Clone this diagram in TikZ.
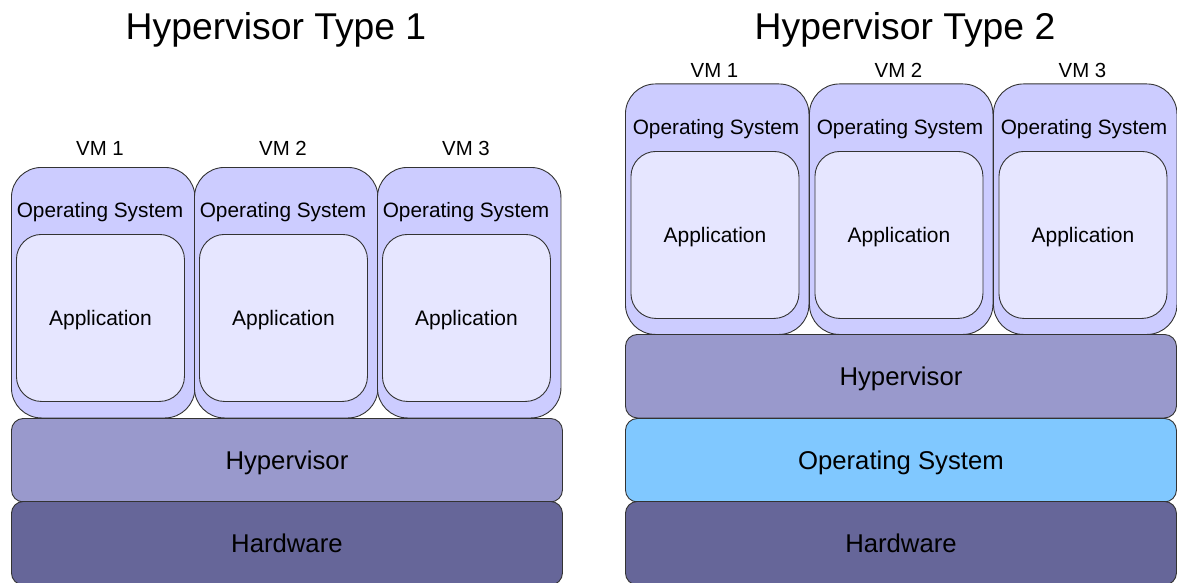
\documentclass[tikz,border=0pt]{standalone}
\usepackage{fontspec}
\setmainfont{Liberation Sans}
\definecolor{vmfill}{HTML}{CCCCFF}
\definecolor{appfill}{HTML}{E6E6FF}
\definecolor{hypfill}{HTML}{9999CC}
\definecolor{hwfill}{HTML}{666699}
\definecolor{osfill}{HTML}{80C8FF}
\definecolor{edge}{HTML}{333333}
\tikzset{
  box/.style={draw=edge, line width=0.9pt, rectangle, inner sep=0pt, anchor=north west},
  vmbox/.style={box, fill=vmfill, rounded corners=30pt, minimum width=183.5pt, minimum height=250.5pt},
  appbox/.style={box, fill=appfill, rounded corners=25pt, minimum width=168pt, minimum height=167pt},
  layer/.style={box, rounded corners=12pt, minimum width=551pt, minimum height=83.5pt},
  title/.style={anchor=base, font=\fontsize{37.3}{40}\selectfont},
  vmlabel/.style={anchor=base, font=\fontsize{20.4}{24}\selectfont},
  oslabel/.style={anchor=base, font=\fontsize{20.8}{24}\selectfont},
  applabel/.style={anchor=base, font=\fontsize{21}{24}\selectfont},
  layerlabel/.style={anchor=base, font=\fontsize{25.7}{30}\selectfont},
}
\begin{document}
\begin{tikzpicture}[x=1pt, y=-1pt]
  \useasboundingbox (0,0) rectangle (1177,583);

  % ---------- Type 1: bare-metal hypervisor ----------
  \node[title] (t1) at (276,40) {Hypervisor Type 1};
  \foreach \i/\x in {1/11, 2/194, 3/377} {
    \node[vmbox] (L\i vm) at (\x,167) {};
    \node[appbox] (L\i app) at (\x+5,234) {};
    \node[vmlabel] (L\i vmt) at (\x+89,155.5) {VM \i};
    \node[oslabel] (L\i ost) at (\x+89,217.3) {Operating System};
    \node[applabel] (L\i appt) at (L\i app.center |- 0,325.3) {Application};
  }
  \node[layer, fill=hypfill] (Lhyp) at (11,418) {};
  \node[layerlabel] (Lhypt) at (Lhyp.center |- 0,469) {Hypervisor};
  \node[layer, fill=hwfill] (Lhw) at (11,501) {};
  \node[layerlabel] (Lhwt) at (Lhw.center |- 0,552) {Hardware};

  % ---------- Type 2: hosted hypervisor ----------
  \node[title] (t2) at (905,40) {Hypervisor Type 2};
  \foreach \i/\x in {1/625, 2/809, 3/993} {
    \node[vmbox] (R\i vm) at (\x,83.5) {};
    \node[appbox] (R\i app) at (\x+5.5,151) {};
    \node[vmlabel] (R\i vmt) at (\x+89.5,78) {VM \i};
    \node[oslabel] (R\i ost) at (\x+91,134.8) {Operating System};
    \node[applabel] (R\i appt) at (R\i app.center |- 0,242.7) {Application};
  }
  \node[layer, fill=hypfill] (Rhyp) at (625,334) {};
  \node[layerlabel] (Rhypt) at (Rhyp.center |- 0,385) {Hypervisor};
  \node[layer, fill=osfill] (Ros) at (625,418) {};
  \node[layerlabel] (Rost) at (Ros.center |- 0,469) {Operating System};
  \node[layer, fill=hwfill] (Rhw) at (625,501) {};
  \node[layerlabel] (Rhwt) at (Rhw.center |- 0,552) {Hardware};
\end{tikzpicture}
\end{document}
